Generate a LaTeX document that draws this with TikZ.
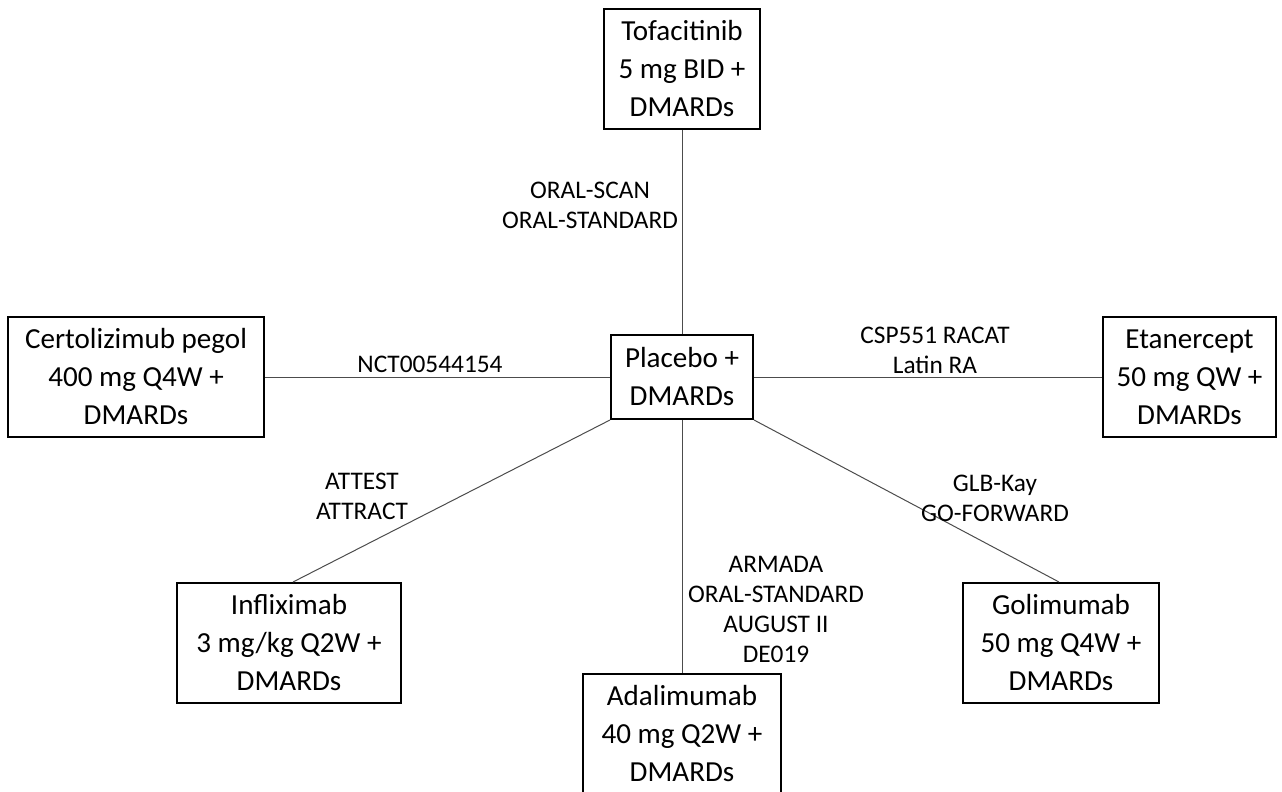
\documentclass[tikz,border=0pt]{standalone}
\usepackage{fontspec}
\setmainfont{Carlito}
\usetikzlibrary{calc}
\begin{document}
\begin{tikzpicture}[x=0.75pt,y=-0.75pt,
  trt/.style={draw=black,line width=1.5pt,rectangle,align=center,inner sep=0pt,
    font=\fontsize{21.8}{28.5}\selectfont,minimum height=90pt},
  lbl/.style={align=center,inner sep=0pt,font=\fontsize{19}{22.5}\selectfont},
  conn/.style={draw=black!70,line width=0.75pt}]
\useasboundingbox (0,0) rectangle (1282,792);
\node[trt,minimum width=117pt] (tofa) at (682,69) {Tofacitinib\\5 mg BID +\\DMARDs};
\node[trt,minimum width=106.5pt,minimum height=63pt] (plac) at (682,377) {Placebo +\\DMARDs};
\node[trt,minimum width=192pt] (cert) at (136,377) {Certolizimub pegol\\400 mg Q4W +\\DMARDs};
\node[trt,minimum width=129.75pt] (etan) at (1189.5,377) {Etanercept\\50 mg QW +\\DMARDs};
\node[trt,minimum width=168pt] (infl) at (289,643) {Infliximab\\3 mg/kg Q2W +\\DMARDs};
\node[trt,minimum width=148.5pt] (adal) at (682,734) {Adalimumab\\40 mg Q2W +\\DMARDs};
\node[trt,minimum width=147pt] (goli) at (1061,643) {Golimumab\\50 mg Q4W +\\DMARDs};
\draw[conn] (plac.north) -- (tofa.south);
\draw[conn] (plac.west) -- (cert.east);
\draw[conn] (plac.east) -- (etan.west);
\draw[conn] (plac.south west) -- ($(infl.north)+(4,0)$);
\draw[conn] (plac.south) -- (adal.north);
\draw[conn] (plac.south east) -- ($(goli.north)+(-2,0)$);
\node[lbl] (l1) at (590,205) {ORAL-SCAN\\ORAL-STANDARD};
\node[lbl] (l2) at (430,364) {NCT00544154};
\node[lbl] (l3) at (935,350) {CSP551 RACAT\\Latin RA};
\node[lbl] (l4) at (362,496) {ATTEST\\ATTRACT};
\node[lbl] (l5) at (776,609) {ARMADA\\ORAL-STANDARD\\AUGUST II\\DE019};
\node[lbl] (l6) at (995,498) {GLB-Kay\\GO-FORWARD};
\end{tikzpicture}
\end{document}
